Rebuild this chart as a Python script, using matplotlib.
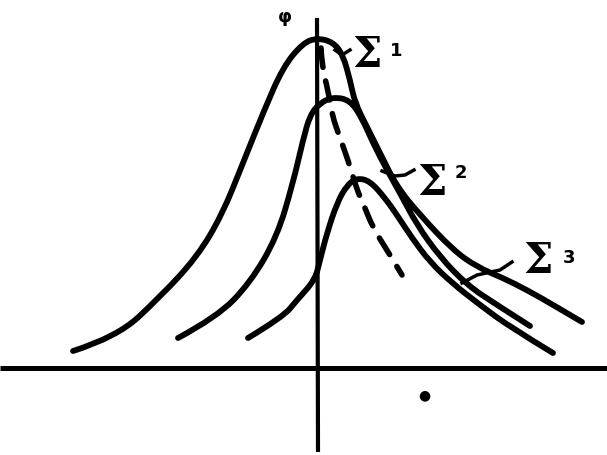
import numpy as np
import matplotlib.pyplot as plt
from matplotlib.path import Path
from matplotlib.patches import PathPatch

# Krivulje ocitane sa slike (pikseli, y raste prema dolje)
s1_x = [73, 117, 160, 197, 222, 243, 263, 283, 303, 317, 333, 343, 350, 355, 367,
        380, 397, 420, 453, 477, 503, 527, 555, 582]
s1_y = [351, 337, 297, 257, 215, 163, 113, 67, 43, 38, 42, 55, 80, 103, 127,
        153, 187, 215, 250, 267, 278, 290, 306, 322]

s2_x = [178, 217, 250, 277, 293, 303, 310, 320, 333, 350, 362, 373, 387, 400,
        417, 440, 467, 497, 530]
s2_y = [338, 317, 283, 237, 183, 140, 115, 103, 97, 100, 118, 143, 170, 193,
        225, 257, 285, 305, 326]

s3_x = [248, 283, 297, 315, 320, 327, 337, 347, 357, 370, 385, 397, 412, 430,
        452, 480, 510, 553]
s3_y = [338, 317, 300, 280, 260, 233, 203, 185, 178, 181, 198, 215, 238, 262,
        283, 305, 327, 353]

# isprekidana krivulja
d_x = [321, 322, 328, 332, 340, 348, 357, 363, 373, 387, 402]
d_y = [48, 67, 90, 115, 138, 160, 190, 203, 228, 250, 275]

labels = ['1', '2', '3']


def glatka(xs, ys):
    # kvadratni Bezier: ocitane tocke su kontrolne, krivulja ide kroz polovista
    v = [(xs[0], ys[0])]
    c = [Path.MOVETO]
    for i in range(1, len(xs) - 1):
        v.append((xs[i], ys[i]))
        if i < len(xs) - 2:
            v.append(((xs[i] + xs[i + 1]) / 2, (ys[i] + ys[i + 1]) / 2))
        else:
            v.append((xs[-1], ys[-1]))
        c += [Path.CURVE3, Path.CURVE3]
    return Path(v, c)


fig = plt.figure(figsize=(6.07, 4.55), dpi=100)
ax = fig.add_axes([0, 0, 1, 1])
ax.set_xlim(0, 607)
ax.set_ylim(455, 0)
ax.axis('off')

# osi
ax.plot([0, 607], [368, 368], color='black', lw=3.6, solid_capstyle='butt')
ax.plot([317, 318], [18, 452], color='black', lw=3.0, solid_capstyle='butt')

for xs, ys in [(s1_x, s1_y), (s2_x, s2_y), (s3_x, s3_y)]:
    ax.add_patch(PathPatch(glatka(xs, ys), fill=False, color='black', lw=4.2,
                           capstyle='round', joinstyle='round'))

ax.add_patch(PathPatch(glatka(d_x, d_y), fill=False, color='black', lw=4.0,
                       linestyle=(0, (3.5, 2.5)), capstyle='round'))

# oznake Σ s kratkim spojnicama
ax.plot([335, 342, 350], [50, 55, 50], color='black', lw=2.5)
ax.plot([382, 395, 405, 414], [171, 176, 175, 170], color='black', lw=2.5)
ax.plot([462, 477, 500, 512], [283, 275, 270, 262], color='black', lw=2.5)

sig_pos = [(352, 67), (417, 195), (523, 273)]
sup_pos = [(390, 56), (455, 178), (563, 263)]
for (sx, sy), (px, py), lab in zip(sig_pos, sup_pos, labels):
    ax.text(sx, sy, 'Σ', fontsize=30, fontweight='bold', ha='left',
            va='baseline', family='DejaVu Serif')
    ax.text(px, py, lab, fontsize=13, fontweight='bold', ha='left',
            va='baseline')

ax.text(285, 17, 'φ', fontsize=13, fontweight='bold', ha='center',
        va='center')
ax.text(424, 395, '●', fontsize=10, ha='center', va='center')

plt.savefig('out.png', dpi=100)
